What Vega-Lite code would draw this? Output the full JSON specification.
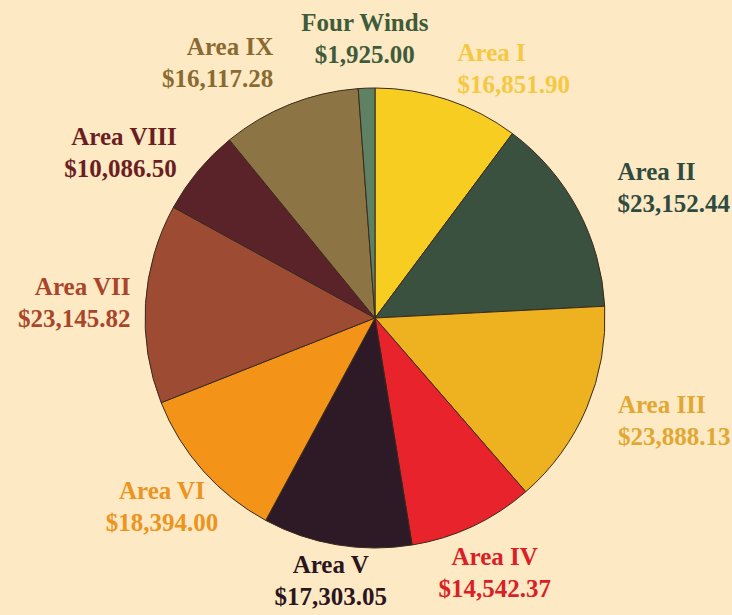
{
  "$schema": "https://vega.github.io/schema/vega-lite/v6.json",
  "autosize": "none",
  "width": 714,
  "height": 594,
  "padding": {"left": 18, "top": 21, "right": 0, "bottom": 0},
  "background": "#fde9c3",
  "config": {"view": {"stroke": null}},
  "data": {
    "values": [
      {"n": 1, "area": "Area I", "amount": 16851.90},
      {"n": 2, "area": "Area II", "amount": 23152.44},
      {"n": 3, "area": "Area III", "amount": 23888.13},
      {"n": 4, "area": "Area IV", "amount": 14542.37},
      {"n": 5, "area": "Area V", "amount": 17303.05},
      {"n": 6, "area": "Area VI", "amount": 18394.00},
      {"n": 7, "area": "Area VII", "amount": 23145.82},
      {"n": 8, "area": "Area VIII", "amount": 10086.50},
      {"n": 9, "area": "Area IX", "amount": 16117.28},
      {"n": 10, "area": "Four Winds", "amount": 1925.00}
    ]
  },
  "encoding": {
    "theta": {"field": "amount", "type": "quantitative", "stack": true},
    "order": {"field": "n", "type": "quantitative"}
  },
  "layer": [
    {
      "mark": {"type": "arc", "outerRadius": 230, "stroke": "#3a2a1c", "strokeWidth": 1},
      "encoding": {
        "color": {
          "field": "area", "type": "nominal", "legend": null,
          "scale": {
            "domain": ["Area I", "Area II", "Area III", "Area IV", "Area V", "Area VI", "Area VII", "Area VIII", "Area IX", "Four Winds"],
            "range": ["#f7cd22", "#3a5140", "#eeb11f", "#e8232b", "#2e1a27", "#f39317", "#9d4b33", "#5a2229", "#8d7445", "#5e8063"]
          }
        }
      }
    },
    {
      "mark": {
        "type": "text", "dy": -16, "font": "Liberation Serif", "fontWeight": "bold", "fontSize": 25,
        "radius": {"expr": "datum.area == 'Four Winds' ? 279 : datum.area == 'Area I' ? 262 : datum.area == 'Area II' ? 275 : datum.area == 'Area III' ? 264 : datum.area == 'Area IV' ? 282 : datum.area == 'Area V' ? 267 : datum.area == 'Area VI' ? 285 : datum.area == 'Area VII' ? 245 : datum.area == 'Area VIII' ? 258 : 275"},
        "align": {"expr": "indexof(['Area I', 'Area II', 'Area III'], datum.area) >= 0 ? 'left' : indexof(['Area VII', 'Area VIII', 'Area IX'], datum.area) >= 0 ? 'right' : 'center'"}
      },
      "encoding": {
        "text": {"field": "area", "type": "nominal"},
        "color": {
          "field": "area", "type": "nominal", "legend": null,
          "scale": {
            "domain": ["Area I", "Area II", "Area III", "Area IV", "Area V", "Area VI", "Area VII", "Area VIII", "Area IX", "Four Winds"],
            "range": ["#f5c842", "#2f4a3f", "#e0a832", "#d92027", "#2a1520", "#eb9420", "#a8452a", "#6b1e22", "#8a6a30", "#3e5b3a"]
          }
        }
      }
    },
    {
      "mark": {
        "type": "text", "dy": 16, "font": "Liberation Serif", "fontWeight": "bold", "fontSize": 25,
        "radius": {"expr": "datum.area == 'Four Winds' ? 279 : datum.area == 'Area I' ? 262 : datum.area == 'Area II' ? 275 : datum.area == 'Area III' ? 264 : datum.area == 'Area IV' ? 282 : datum.area == 'Area V' ? 267 : datum.area == 'Area VI' ? 285 : datum.area == 'Area VII' ? 245 : datum.area == 'Area VIII' ? 258 : 275"},
        "align": {"expr": "indexof(['Area I', 'Area II', 'Area III'], datum.area) >= 0 ? 'left' : indexof(['Area VII', 'Area VIII', 'Area IX'], datum.area) >= 0 ? 'right' : 'center'"}
      },
      "encoding": {
        "text": {"field": "amount", "type": "quantitative", "format": "$,.2f"},
        "color": {
          "field": "area", "type": "nominal", "legend": null,
          "scale": {
            "domain": ["Area I", "Area II", "Area III", "Area IV", "Area V", "Area VI", "Area VII", "Area VIII", "Area IX", "Four Winds"],
            "range": ["#f5c842", "#2f4a3f", "#e0a832", "#d92027", "#2a1520", "#eb9420", "#a8452a", "#6b1e22", "#8a6a30", "#3e5b3a"]
          }
        }
      }
    }
  ],
  "resolve": {"scale": {"color": "independent"}}
}
